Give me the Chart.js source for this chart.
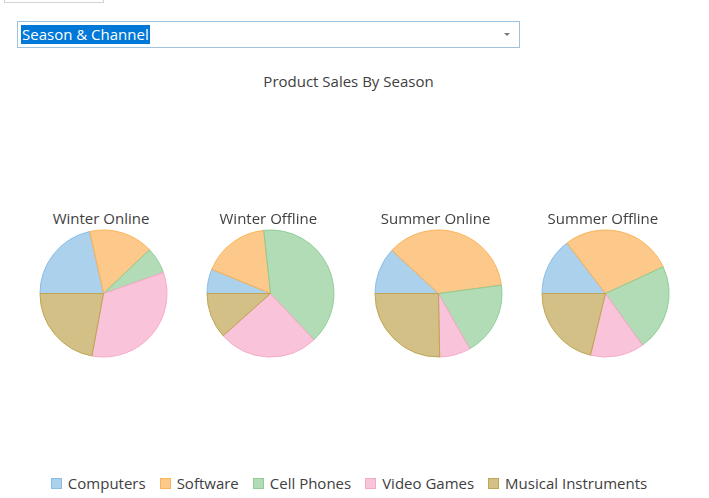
<!DOCTYPE html>
<html>
<head>
<meta charset="utf-8">
<script src="https://cdn.jsdelivr.net/npm/chart.js@4"></script>
<style>
  body { margin: 0; background: #fff; font-family: "Open Sans", "Noto Sans", sans-serif; color: #404040; }
  #stage { position: relative; width: 709px; height: 498px; overflow: hidden; }
  #stub { position: absolute; left: 4px; top: -20px; width: 98px; height: 21px; border: 1px solid #d4d4d4; }
  #picker { position: absolute; left: 17px; top: 21px; width: 501px; height: 25px; border: 1px solid #9cc3e2; box-sizing: content-box; }
  #picker .sel { position: absolute; left: 3px; top: 3px; height: 19px; line-height: 19px; padding: 0 1px; background: #0078d7; color: #fff; font-size: 15px; }
  #picker .arrow { position: absolute; right: 9px; top: 11px; width: 0; height: 0; border-left: 3px solid transparent; border-right: 3px solid transparent; border-top: 3px solid #777; }
  #title { position: absolute; left: 0; width: 697px; top: 70px; text-align: center; font-size: 15px; line-height: 22px; }
  .cap { position: absolute; top: 207px; width: 167px; text-align: center; font-size: 15px; line-height: 22px; }
  .pie { position: absolute; top: 223px; width: 167px; height: 141px; }
  #legend { position: absolute; left: 0; width: 698px; top: 472px; display: flex; justify-content: center; font-size: 15px; line-height: 22px; }
  #legend .item { display: flex; align-items: center; margin: 0 7px; }
  #legend .box { width: 9px; height: 9px; margin-right: 6px; border: 1px solid; }
</style>
</head>
<body>
<div id="stage">
  <div id="stub"></div>
  <div id="picker"><span class="sel">Season &amp; Channel</span><span class="arrow"></span></div>
  <div id="title">Product Sales By Season</div>
  <div id="pies"></div>
  <div id="legend"></div>
</div>
<script>
// categories and pie titles
const products = ['Computers', 'Software', 'Cell Phones', 'Video Games', 'Musical Instruments'];
const seasons = ['Winter Online', 'Winter Offline', 'Summer Online', 'Summer Offline'];

// sales per product, one array per pie
const winterOnline  = [215, 164, 67, 333, 221];
const winterOffline = [62, 171, 397, 254, 116];
const summerOnline  = [119, 360, 189, 79, 253];
const summerOffline = [146, 285, 220, 137, 212];

const PALETTE = ['#88bde6', '#fbb258', '#90cd97', '#f6aac9', '#bfa554'];

function fade(hex, a) {
    const n = parseInt(hex.slice(1), 16);
    return `rgba(${n >> 16}, ${(n >> 8) & 255}, ${n & 255}, ${a})`;
}

const FILLS = PALETTE.map(c => fade(c, 0.7));
const allSeries = [winterOnline, winterOffline, summerOnline, summerOffline];
const stage = document.getElementById('stage');

allSeries.forEach((values, i) => {
    const left = 20 + i * 167.3;

    // caption sits a little left of the pie centre, as in the original
    const cap = document.createElement('div');
    cap.className = 'cap';
    cap.style.left = (left - 2.5) + 'px';
    cap.textContent = seasons[i];
    stage.appendChild(cap);

    const wrap = document.createElement('div');
    wrap.className = 'pie';
    wrap.style.left = left + 'px';
    const canvas = document.createElement('canvas');
    wrap.appendChild(canvas);
    stage.appendChild(wrap);

    new Chart(canvas, {
        type: 'pie',
        data: {
            labels: products,
            datasets: [{
                data: values,
                backgroundColor: FILLS,
                borderColor: PALETTE,
                borderWidth: 1
            }]
        },
        options: {
            responsive: true,
            maintainAspectRatio: false,
            animation: false,
            rotation: -90,
            radius: 63.5,
            layout: { padding: 0 },
            plugins: {
                legend: { display: false },
                tooltip: { enabled: false }
            }
        }
    });
});

// shared legend
const legendDiv = document.getElementById('legend');
products.forEach((name, k) => {
    const item = document.createElement('div');
    item.className = 'item';
    item.innerHTML = `<span class="box" style="background:${FILLS[k]};border-color:${PALETTE[k]}"></span>${name}`;
    legendDiv.appendChild(item);
});
</script>
</body>
</html>
